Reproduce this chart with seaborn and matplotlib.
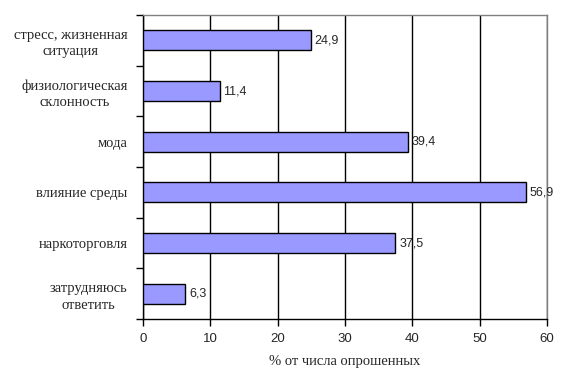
import matplotlib
matplotlib.use("Agg")
import matplotlib.pyplot as plt
import seaborn as sns
import pandas as pd
import numpy as np

categories = ["стресс, жизненная\nситуация", "физиологическая\nсклонность", "мода",
              "влияние среды", "наркоторговля", "затрудняюсь\nответить"]
values = [24.9, 11.4, 39.4, 56.9, 37.5, 6.3]
value_labels = ["24,9", "11,4", "39,4", "56,9", "37,5", "6,3"]
xticks = [0, 10, 20, 30, 40, 50, 60]
xlabel = "% от числа опрошенных"

sns.set_style("white")
df = pd.DataFrame({"cat": categories, "val": values})

fig = plt.figure(figsize=(5.69, 3.9), dpi=100)
ax = fig.add_axes([0.2513, 0.182, 0.71, 0.7795])
ax.set_axisbelow(True)
sns.barplot(data=df, y="cat", x="val", orient="h", color="#9999FF", saturation=1,
            edgecolor="black", linewidth=1.0, width=0.4, ax=ax)
for p in ax.patches:
    p.set_zorder(3)

ax.set_xlim(0, 60)
ax.set_ylim(len(categories) - 0.5, -0.5)
ax.set_xticks(xticks)
ax.set_xticklabels([str(t) for t in xticks], fontfamily="Liberation Sans", fontsize=9.5)
ax.xaxis.grid(True, color="black", linewidth=1.0, zorder=0)
ax.yaxis.grid(False)
ax.tick_params(axis="x", direction="out", length=5, width=1, color="black", pad=5, bottom=True)
ax.tick_params(axis="y", which="major", length=0, pad=11)
ax.set_yticks(np.arange(-0.5, len(categories), 1), minor=True)
ax.tick_params(axis="y", which="minor", direction="out", length=5, width=1, color="black", left=True)
for lab in ax.get_yticklabels():
    lab.set_fontfamily("Liberation Serif")
    lab.set_fontsize(10.5)
    lab.set_multialignment("center")
    lab.set_linespacing(1.35)

for i, (v, t) in enumerate(zip(values, value_labels)):
    ax.text(v + 0.55, i, t, va="center", ha="left", fontsize=9, fontfamily="Liberation Sans", zorder=4)

ax.set_ylabel("")
ax.set_xlabel(xlabel, fontfamily="Liberation Serif", fontsize=10.5, labelpad=7)

for side in ["top", "right"]:
    ax.spines[side].set_color("#808080")
    ax.spines[side].set_linewidth(1)
for side in ["left", "bottom"]:
    ax.spines[side].set_color("black")
    ax.spines[side].set_linewidth(1)

fig.savefig("out.png", dpi=100, facecolor="white")
